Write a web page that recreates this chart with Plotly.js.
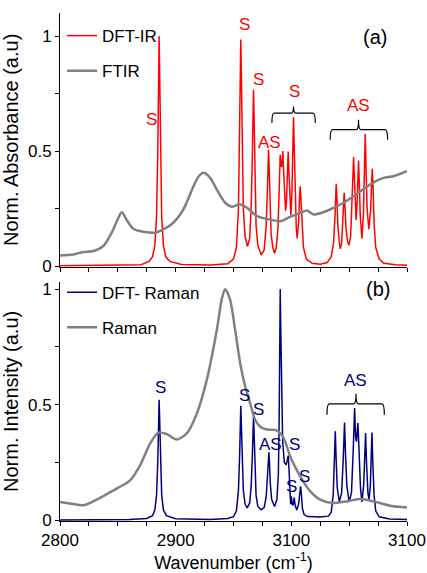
<!DOCTYPE html>
<html>
<head>
<meta charset="utf-8">
<script src="https://cdn.plot.ly/plotly-3.0.1.min.js"></script>
<style>html,body{margin:0;padding:0;background:#fff;}#chart{width:427px;height:573px;}</style>
</head>
<body>
<div id="chart"></div>
<script>
// ---------- DATA ----------
// Panel (a): DFT-IR computed spectrum
const irX = [2800,2850,2870,2877,2880,2882,2883.5,2884.5,2885.2,2885.7,2886.2,2886.9,2887.9,2889.4,2891.4,2895,2905,2930,2945,2950,2952.5,2954.3,2955.3,2955.8,2956.3,2956.8,2957.5,2958.5,2960,2962,2964,2965.3,2966.3,2966.8,2967.3,2967.8,2968.5,2969.5,2971,2974,2976.5,2978.2,2979.3,2979.8,2980.3,2980.8,2981.5,2982.5,2984,2985.5,2987,2988.5,2989.5,2990,2990.4,2991.0,2991.6,2992.2,2992.7,2993.3,2994.2,2995.0,2995.8,2996.6,2997.3,2998.0,2998.8,2999.6,3000.5,3001.3,3001.9,3002.5,3003.3,3004.3,3005.1,3006.3,3007.1,3007.7,3008.3,3009.2,3010.5,3013,3018,3025,3031,3034.5,3036.5,3037.8,3038.4,3038.8,3039.3,3040.2,3041.5,3042.3,3043.5,3044.6,3045.3,3045.7,3046.2,3047.2,3048.5,3049.8,3051.3,3052.6,3053.3,3053.8,3054.4,3055.3,3056.0,3056.8,3057.6,3058.1,3058.7,3059.6,3061.0,3062.3,3063.3,3063.9,3064.5,3065.5,3067.0,3068.5,3069.4,3070.0,3070.6,3071.6,3073,3076,3080,3090,3100];
const irY = [0.001,0.003,0.006,0.02,0.04,0.09,0.22,0.48,0.83,1.0,0.83,0.48,0.22,0.09,0.04,0.02,0.007,0.004,0.01,0.03,0.08,0.25,0.55,0.82,0.985,0.83,0.52,0.25,0.13,0.085,0.12,0.26,0.48,0.65,0.766,0.65,0.38,0.18,0.09,0.048,0.07,0.17,0.33,0.43,0.506,0.43,0.27,0.14,0.08,0.055,0.08,0.17,0.33,0.43,0.484,0.44,0.43,0.46,0.50,0.42,0.29,0.24,0.28,0.40,0.498,0.40,0.27,0.22,0.32,0.52,0.647,0.52,0.30,0.16,0.12,0.19,0.30,0.347,0.29,0.17,0.08,0.03,0.012,0.008,0.015,0.04,0.10,0.22,0.31,0.357,0.31,0.18,0.10,0.075,0.10,0.20,0.28,0.318,0.28,0.17,0.11,0.09,0.13,0.27,0.40,0.474,0.41,0.26,0.20,0.27,0.40,0.458,0.37,0.22,0.12,0.22,0.44,0.574,0.45,0.25,0.16,0.24,0.36,0.423,0.35,0.18,0.08,0.03,0.012,0.005,0.003];

// Panel (a): measured FTIR
const ftirX = [2800,2811.5,2820.2,2828.8,2837.5,2844.7,2849.6,2853.4,2857.7,2863.4,2872.1,2882.2,2889.4,2898.0,2906.7,2915.4,2920,2924.0,2929.8,2935.6,2942.8,2948.6,2955.0,2961.6,2970.2,2978.9,2990.4,2999.0,3007.7,3013.5,3019.2,3027.8,3036.5,3045.1,3053.8,3062.4,3071.1,3079.7,3088.3,3100];
const ftirY = [0.046,0.05,0.061,0.065,0.087,0.145,0.2,0.234,0.2,0.162,0.149,0.145,0.159,0.188,0.246,0.347,0.39,0.405,0.383,0.332,0.275,0.258,0.268,0.253,0.217,0.205,0.195,0.214,0.231,0.241,0.224,0.234,0.253,0.275,0.303,0.335,0.364,0.383,0.39,0.412];

// Panel (b): DFT-Raman computed spectrum
const dftRamanX = [2800,2860,2875,2880,2882,2883.5,2884.5,2885.2,2885.7,2886.2,2886.9,2887.9,2889.4,2892,2900,2930,2945,2950,2952.5,2954.3,2955.3,2955.8,2956.3,2956.8,2957.5,2958.5,2960,2961.8,2964,2965.3,2966.3,2966.8,2967.3,2967.8,2968.5,2969.5,2971,2973.9,2976.5,2978.2,2979.5,2980.1,2980.6,2981.1,2981.8,2983,2985.5,2987.5,2988.8,2989.5,2990.0,2990.4,2990.8,2991.5,2992.5,2994,2995.5,2996.5,2997.3,2998.0,2998.8,2999.4,3000.0,3000.7,3001.5,3002.5,3003.3,3004.7,3006.3,3007.3,3008.0,3008.6,3009.6,3011,3014,3025,3032,3034.5,3036.2,3037.2,3038.0,3038.7,3039.7,3041.5,3043.5,3044.9,3046.0,3046.8,3048,3050,3052,3053.5,3054.7,3055.6,3056.3,3057.6,3058.6,3059.8,3061,3062.5,3063.5,3064.2,3065,3066.2,3067.2,3068.3,3069.1,3069.7,3070.4,3071.5,3073,3076,3085,3100];
const dftRamanY = [0.001,0.003,0.008,0.02,0.045,0.11,0.25,0.43,0.521,0.43,0.25,0.11,0.045,0.02,0.007,0.004,0.008,0.016,0.04,0.13,0.28,0.41,0.495,0.41,0.26,0.13,0.07,0.054,0.075,0.15,0.28,0.38,0.449,0.38,0.23,0.11,0.06,0.046,0.055,0.1,0.2,0.26,0.294,0.25,0.16,0.09,0.06,0.09,0.2,0.45,0.82,1.0,0.85,0.55,0.34,0.25,0.24,0.26,0.28,0.22,0.11,0.07,0.104,0.07,0.065,0.098,0.065,0.045,0.07,0.125,0.147,0.12,0.05,0.025,0.016,0.014,0.018,0.035,0.11,0.26,0.385,0.27,0.14,0.08,0.12,0.27,0.423,0.29,0.15,0.08,0.12,0.3,0.486,0.36,0.34,0.421,0.28,0.14,0.08,0.15,0.28,0.378,0.25,0.12,0.09,0.15,0.28,0.38,0.26,0.11,0.04,0.015,0.006,0.003];

// Panel (b): measured Raman
const ramanX = [2800,2810,2820.2,2830,2840.4,2850,2860.6,2869.2,2877.9,2885.1,2892.3,2901.0,2909.6,2918.3,2926.9,2935.6,2940,2942.8,2947.1,2951.4,2955.8,2960.1,2964.4,2968.8,2973.1,2978.9,2986.1,2990.4,2994.7,2999.0,3003.4,3007.7,3012.0,3016.4,3025.0,3035.1,3048.1,3059.6,3071.1,3085.5,3100];
const ramanY = [0.079,0.072,0.065,0.085,0.113,0.14,0.173,0.238,0.332,0.379,0.373,0.35,0.376,0.462,0.607,0.824,0.96,1.0,0.954,0.824,0.679,0.578,0.506,0.434,0.405,0.393,0.391,0.377,0.34,0.276,0.23,0.19,0.155,0.125,0.089,0.075,0.082,0.092,0.082,0.063,0.055];

// Tick values and labels (as printed in the reference)
const xTickVals = [2800,2825,2850,2875,2900,2925,2950,2975,3000,3025,3050,3075,3100];
const xTickText = ['2800','','','','2900','','','','3100','','','','3100'];
const yTickVals = [0,0.25,0.5,0.75,1];
const yTickText = ['0','','0.5','','1'];

// Peak labels
const topLabels = [
  {t:'S', x:2879.2, y:0.636}, {t:'S', x:2959.2, y:1.048}, {t:'S', x:2971.3, y:0.809},
  {t:'AS', x:2980.8, y:0.536}, {t:'S', x:3002.5, y:0.757}, {t:'AS', x:3057.9, y:0.697}
];
const botLabels = [
  {t:'S', x:2886.5, y:0.573}, {t:'S', x:2989.5, y:1.043}, {t:'S', x:2959.6, y:0.539},
  {t:'S', x:2971.3, y:0.478}, {t:'AS', x:2981.7, y:0.327}, {t:'S', x:3002.5, y:0.327},
  {t:'S', x:3000.3, y:0.146}, {t:'S', x:3011.1, y:0.189}, {t:'AS', x:3055.7, y:0.603}
];

// ---------- STYLE ----------
const RED = '#ff0000', GRAY = '#808080', NAVY = '#000080';
const FONT = 'Liberation Sans, Arial, sans-serif';
const XR = [2800, 3100];

const traces = [
  {x: irX, y: irY, xaxis:'x2', yaxis:'y2', type:'scatter', mode:'lines', name:'DFT-IR',
   line:{color:RED, width:1.5}, legend:'legend', legendgroup:'a'},
  {x: ftirX, y: ftirY, xaxis:'x2', yaxis:'y2', type:'scatter', mode:'lines', name:'FTIR',
   line:{color:GRAY, width:2.5, shape:'spline', smoothing:0.8}, legend:'legend', legendgroup:'b'},
  {x: dftRamanX, y: dftRamanY, xaxis:'x', yaxis:'y', type:'scatter', mode:'lines', name:'DFT- Raman',
   line:{color:NAVY, width:1.5}, legend:'legend2', legendgroup:'c'},
  {x: ramanX, y: ramanY, xaxis:'x', yaxis:'y', type:'scatter', mode:'lines', name:'Raman',
   line:{color:GRAY, width:2.5, shape:'spline', smoothing:0.8}, legend:'legend2', legendgroup:'d'}
];

function bracket(x1, x2, xc, y0, yh, yt, xref, yref) {
  const d = 2;
  const p = `M${x1},${yh} Q${x1},${y0} ${x1+d},${y0} L${xc-d},${y0} Q${xc},${y0} ${xc},${yt} ` +
            `Q${xc},${y0} ${xc+d},${y0} L${x2-d},${y0} Q${x2},${y0} ${x2},${yh}`;
  return {type:'path', path:p, xref:xref, yref:yref, line:{color:'#000', width:1.2}};
}

const baseAx = {showgrid:false, zeroline:false, showline:true, linecolor:'#000', linewidth:1,
  tickcolor:'#000', ticklen:4, tickwidth:1, tickfont:{size:17, color:'#000'}};

const layout = {
  width:427, height:573,
  margin:{l:60, r:20, t:13, b:52},
  paper_bgcolor:'#fff', plot_bgcolor:'#fff',
  font:{family:FONT, size:17, color:'#000'},
  showlegend:true,
  xaxis: Object.assign({}, baseAx, {domain:[0,1], anchor:'y', range:XR, tickmode:'array',
    tickvals:xTickVals, ticktext:xTickText, ticks:'outside',
    title:{text:'Wavenumber (cm<sup>-1</sup>)', font:{size:18}, standoff:6}}),
  yaxis: Object.assign({}, baseAx, {domain:[0,0.471], anchor:'x', range:[-0.003,1.032], tickmode:'array',
    tickvals:yTickVals, ticktext:yTickText, ticks:'outside',
    title:{text:'Norm. Intensity (a.u)', font:{size:20}, standoff:3}}),
  xaxis2: Object.assign({}, baseAx, {domain:[0,1], anchor:'y2', range:XR, tickmode:'array',
    tickvals:xTickVals, showticklabels:false, ticks:'outside'}),
  yaxis2: Object.assign({}, baseAx, {domain:[0.5006,1], anchor:'x2', range:[-0.003,1.1], tickmode:'array',
    tickvals:yTickVals, ticktext:yTickText, ticks:'outside',
    title:{text:'Norm. Absorbance (a.u)', font:{size:20}, standoff:3}}),
  xaxis3: Object.assign({}, baseAx, {overlaying:'x2', anchor:'y2', side:'top', range:XR, tickmode:'array',
    tickvals:xTickVals, showticklabels:false, ticks:'inside'}),
  yaxis3: Object.assign({}, baseAx, {overlaying:'y2', anchor:'x2', side:'right', range:[-0.003,1.1], tickmode:'array',
    tickvals:yTickVals, showticklabels:false, ticks:'inside'}),
  yaxis4: Object.assign({}, baseAx, {overlaying:'y', anchor:'x', side:'right', range:[-0.003,1.032], tickmode:'array',
    tickvals:yTickVals, showticklabels:false, ticks:'inside'}),
  legend: {x:0.006, y:0.99, xanchor:'left', yanchor:'top', bgcolor:'rgba(0,0,0,0)',
    font:{size:17}, tracegroupgap:10, itemwidth:30},
  legend2: {x:0.006, y:0.485, xanchor:'left', yanchor:'top', bgcolor:'rgba(0,0,0,0)',
    font:{size:17}, tracegroupgap:10, itemwidth:30},
  annotations: [],
  shapes: [
    bracket(2983.2, 3020.7, 3001.9, 0.665, 0.622, 0.694, 'x2', 'y2'),
    bracket(3033.6, 3083.2, 3058.1, 0.593, 0.549, 0.636, 'x2', 'y2'),
    bracket(3030.8, 3080.4, 3055.9, 0.504, 0.457, 0.547, 'x', 'y')
  ]
};

topLabels.forEach(l => layout.annotations.push({text:l.t, x:l.x, y:l.y, xref:'x2', yref:'y2',
  showarrow:false, font:{size:17, color:RED}}));
botLabels.forEach(l => layout.annotations.push({text:l.t, x:l.x, y:l.y, xref:'x', yref:'y',
  showarrow:false, font:{size:17, color:NAVY}}));
layout.annotations.push({text:'(a)', x:3072.6, y:0.996, xref:'x2', yref:'y2', showarrow:false, font:{size:20, color:'#000'}});
layout.annotations.push({text:'(b)', x:3075.2, y:1.0, xref:'x', yref:'y', showarrow:false, font:{size:20, color:'#000'}});

Plotly.newPlot('chart', traces, layout, {staticPlot:true, displayModeBar:false});
</script>
</body>
</html>
